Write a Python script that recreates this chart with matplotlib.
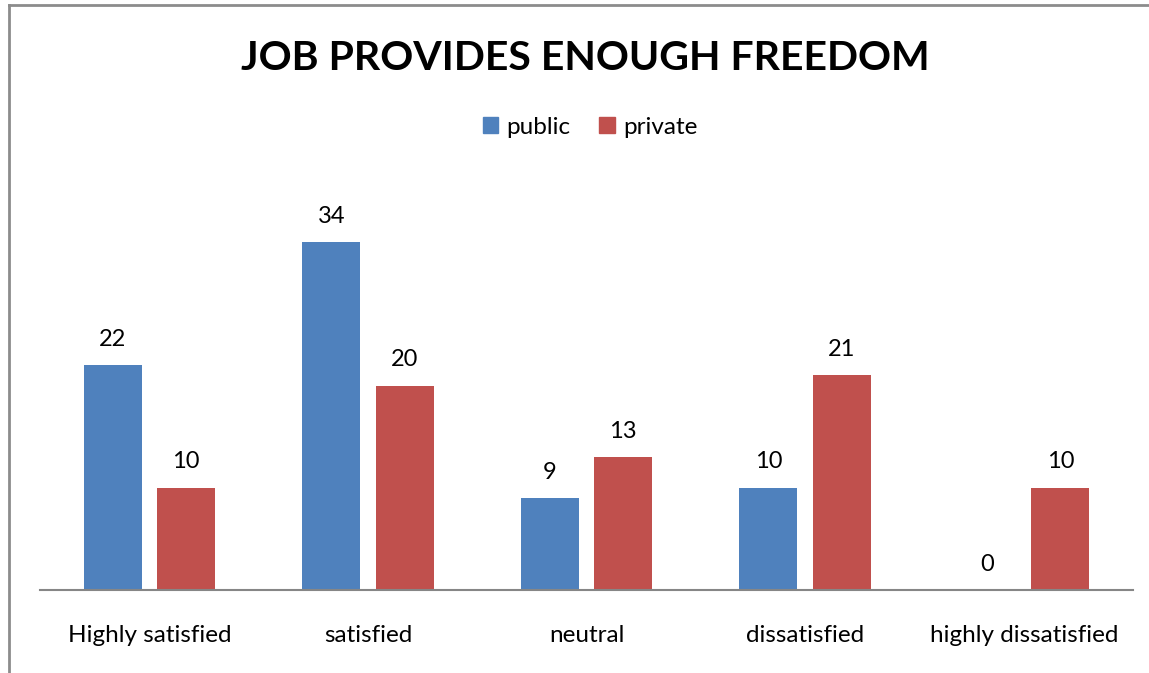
import numpy as np
import matplotlib.pyplot as plt
from matplotlib.lines import Line2D
from matplotlib.patches import Patch

categories = ['Highly satisfied', 'satisfied', 'neutral', 'dissatisfied', 'highly dissatisfied']
public = [22, 34, 9, 10, 0]
private = [10, 20, 13, 21, 10]

blue = '#4F81BD'
red = '#C0504D'
font = 'Lato'

W, H = 1149, 673
fig = plt.figure(figsize=(W / 100, H / 100), dpi=100)

# outer chart border (left and top edges)
fig.add_artist(Line2D([9 / W, 9 / W], [0, 1 - 5 / H], color='#8c8c8c', lw=2, transform=fig.transFigure))
fig.add_artist(Line2D([9 / W, 1], [1 - 5 / H, 1 - 5 / H], color='#8c8c8c', lw=2, transform=fig.transFigure))

ax = fig.add_axes([40 / W, (H - 590) / H, (1133 - 40) / W, (590 - 181) / H])

x = np.arange(len(categories))
w = 0.265
off = 0.168
b1 = ax.bar(x - off, public, w, color=blue)
b2 = ax.bar(x + off, private, w, color=red)

for bars, vals in ((b1, public), (b2, private)):
    for b, v in zip(bars, vals):
        ax.text(b.get_x() + b.get_width() / 2, v + 1.5, str(v), ha='center', va='bottom',
                fontsize=17, family=font)

ax.set_xlim(-0.5, len(categories) - 0.5)
ax.set_ylim(0, 40)
ax.set_xticks(x)
ax.set_xticklabels(categories, fontsize=17.5, family=font)
ax.tick_params(axis='x', length=0, pad=25)
ax.set_yticks([])
for s in ('top', 'right', 'left'):
    ax.spines[s].set_visible(False)
ax.spines['bottom'].set_color('#868686')
ax.spines['bottom'].set_linewidth(1.5)

fig.text(585 / W, 1 - 59 / H, 'JOB PROVIDES ENOUGH FREEDOM', ha='center', va='center',
         fontsize=29.5, fontweight='bold', family=font)

handles = [Patch(color=blue, label='public'), Patch(color=red, label='private')]
fig.legend(handles=handles, loc='center', bbox_to_anchor=(590 / W, 1 - 127 / H), ncol=2,
           frameon=False, prop={'family': font, 'size': 17.5}, handlelength=0.62, handleheight=0.62,
           handletextpad=0.35, columnspacing=1.2)

fig.savefig('out.png', dpi=100)
